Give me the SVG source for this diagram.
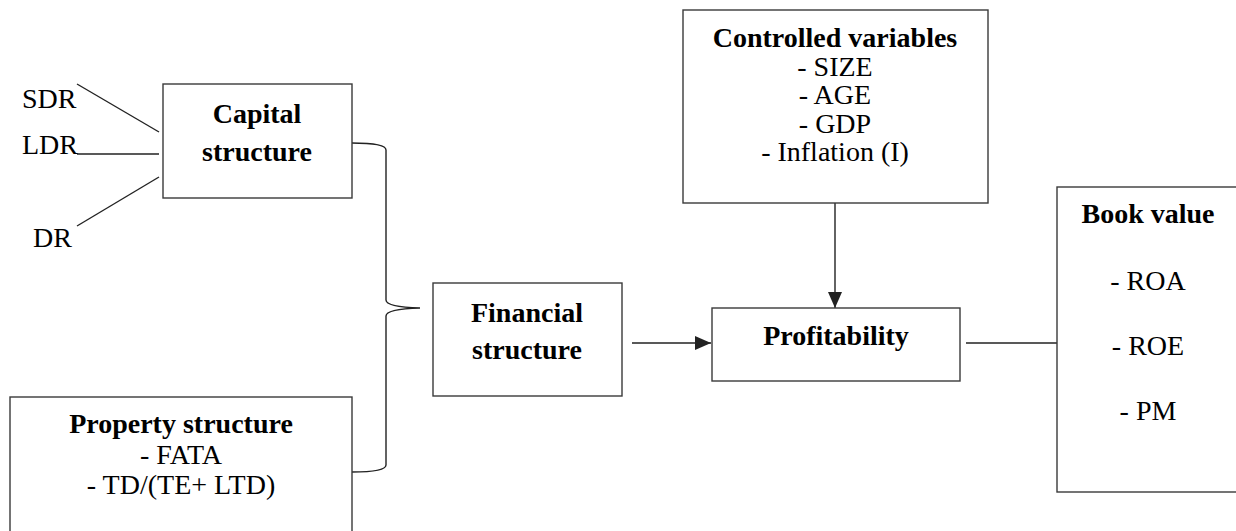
<svg xmlns="http://www.w3.org/2000/svg" width="1236" height="531" viewBox="0 0 1236 531">
<style>
.box{fill:#fff;stroke:#3a3a3a;stroke-width:1.4}
.ln{fill:none;stroke:#222;stroke-width:1.4}
text{font-family:"Liberation Serif","Times New Roman",serif;font-size:28px;fill:#000}
.b{font-weight:bold}
.c{text-anchor:middle}
</style>
<defs>
<marker id="ah" markerWidth="16" markerHeight="14" refX="16" refY="7" orient="auto" markerUnits="userSpaceOnUse">
<path d="M0,0 L16,7 L0,14 Z" fill="#222"/>
</marker>
</defs>
<g id="connectors">
<line class="ln" x1="77" y1="84" x2="159" y2="132"/>
<line class="ln" x1="77" y1="154" x2="159" y2="154"/>
<line class="ln" x1="77" y1="226" x2="159" y2="177"/>
<path class="ln" d="M352,143 Q386,143 386,150 L386,300 Q386,307 420,308 Q386,309 386,316 L386,465 Q386,472 352,472"/>
<line class="ln" x1="632" y1="343" x2="711" y2="343" marker-end="url(#ah)"/>
<line class="ln" x1="835" y1="203" x2="835" y2="308" marker-end="url(#ah)"/>
<line class="ln" x1="966" y1="343" x2="1057" y2="343"/>
</g>
<g id="sdr"><text x="22" y="108">SDR</text></g>
<g id="ldr"><text x="22" y="154">LDR</text></g>
<g id="dr"><text x="33" y="247">DR</text></g>
<g id="capital">
<rect class="box" x="163" y="84" width="189" height="114"/>
<text class="b c" x="257" y="123">Capital</text>
<text class="b c" x="257" y="161">structure</text>
</g>
<g id="property">
<rect class="box" x="10" y="397" width="342" height="150"/>
<text class="b c" x="181" y="433">Property structure</text>
<text class="c" x="181" y="464">- FATA</text>
<text class="c" x="181" y="494">- TD/(TE+ LTD)</text>
</g>
<g id="financial">
<rect class="box" x="433" y="283" width="189" height="113"/>
<text class="b c" x="527" y="322">Financial</text>
<text class="b c" x="527" y="359">structure</text>
</g>
<g id="controlled">
<rect class="box" x="683" y="10" width="305" height="193"/>
<text class="b c" x="835" y="47">Controlled variables</text>
<text class="c" x="835" y="75.5">- SIZE</text>
<text class="c" x="835" y="104">- AGE</text>
<text class="c" x="835" y="132.5">- GDP</text>
<text class="c" x="835" y="161">- Inflation (I)</text>
</g>
<g id="profitability">
<rect class="box" x="712" y="308" width="248" height="73"/>
<text class="b c" x="836" y="345">Profitability</text>
</g>
<g id="bookvalue">
<rect class="box" x="1057" y="187" width="200" height="305"/>
<text class="b c" x="1148" y="223">Book value</text>
<text class="c" x="1148" y="290">- ROA</text>
<text class="c" x="1148" y="355">- ROE</text>
<text class="c" x="1148" y="420">- PM</text>
</g>
</svg>
